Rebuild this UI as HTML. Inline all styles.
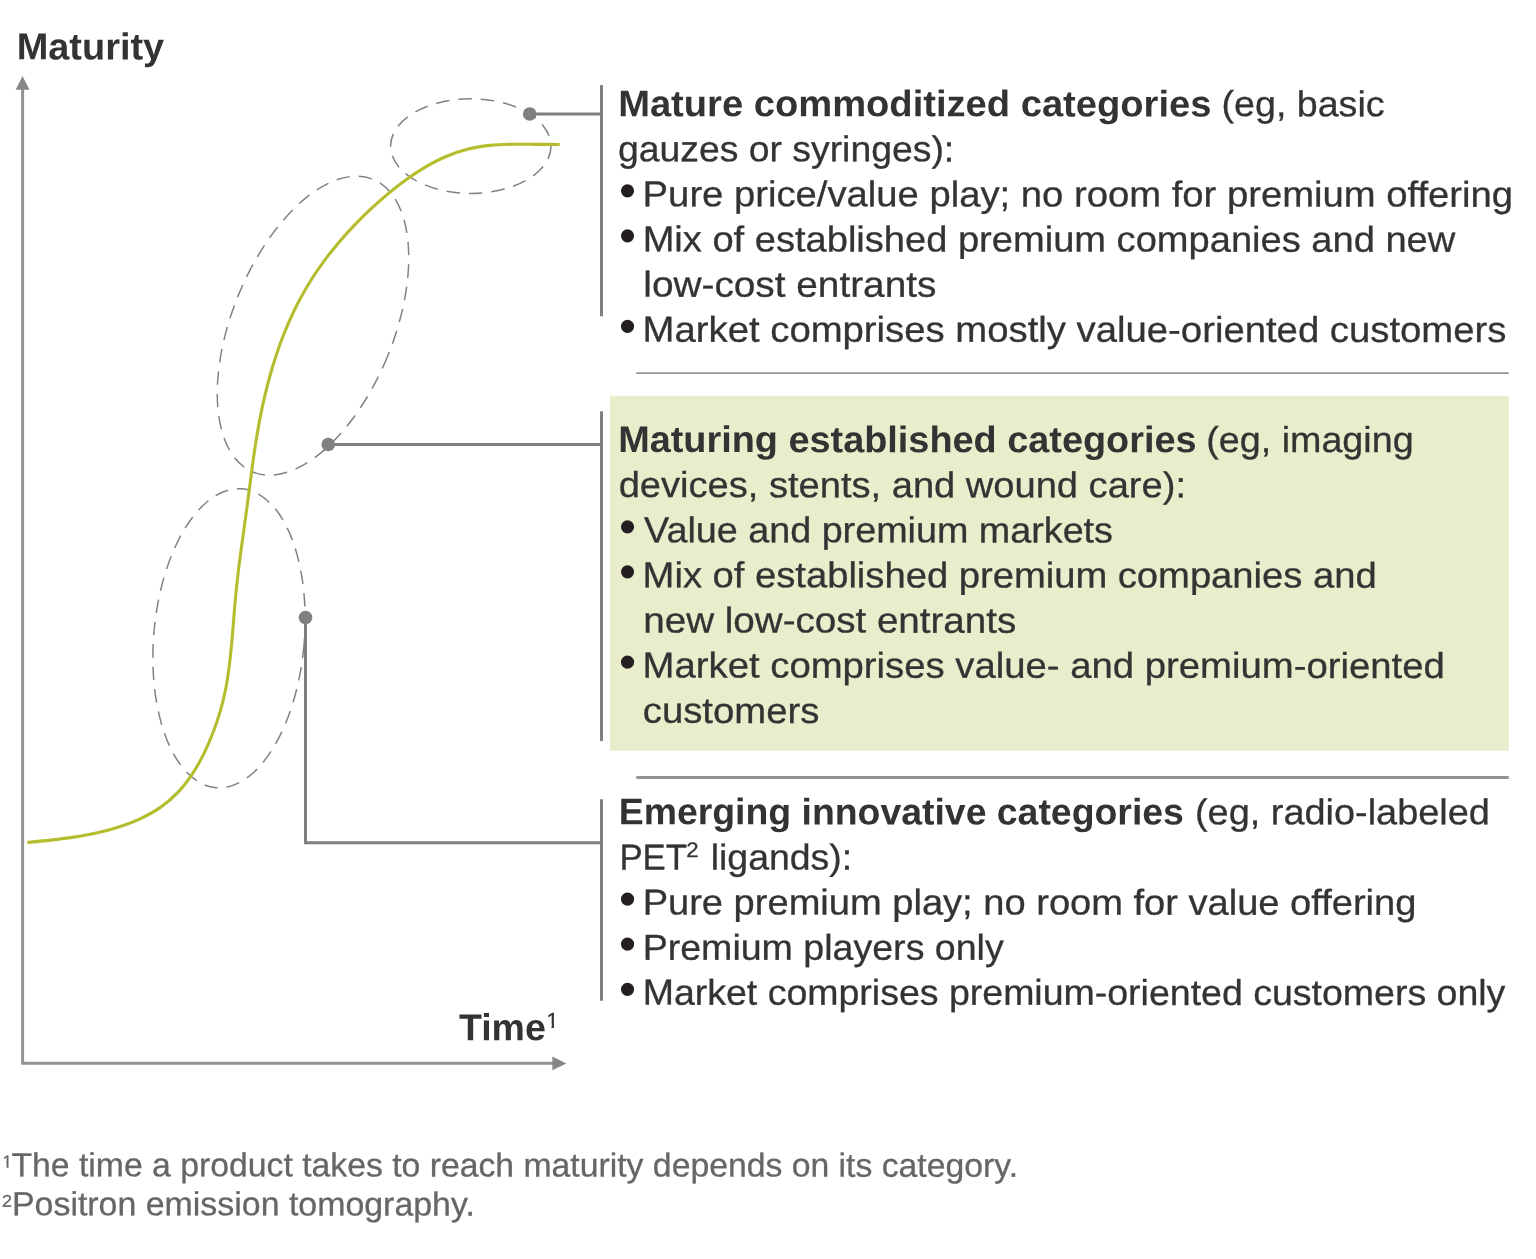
<!DOCTYPE html>
<html lang="en">
<head>
<meta charset="utf-8">
<title>Product maturity over time by category</title>
<style>
html,body{margin:0;padding:0;background:#fff;}
body{width:1536px;height:1259px;overflow:hidden;}
svg{display:block;}
text{font-family:'Liberation Sans', sans-serif;white-space:pre;}
</style>
</head>
<body>
<svg width="1536" height="1259" viewBox="0 0 1536 1259">
<rect x="0" y="0" width="1536" height="1259" fill="#ffffff"/>
<g id="chart">
<g id="axes">
<path d="M22.6 89 V1063.25 H553" fill="none" stroke="#939393" stroke-width="3"/>
<path d="M22.5 75.9 L29.45 89.7 H15.6 Z" fill="#878787"/>
<path d="M566.3 1063.45 L552.4 1070.3 V1056.6 Z" fill="#878787"/>
<text transform="translate(16.67 59.36) rotate(0.03) scale(1.0118 1)" font-size="37.5" font-weight="bold" fill="#333333">Maturity</text>
<text transform="translate(458.96 1040.23) rotate(0.03) scale(1.0001 1)" font-size="37.5" font-weight="bold" fill="#333333">Time</text>
<clipPath id="c1_time1" clipPathUnits="userSpaceOnUse"><path d="M-1 -21.50 H21.50 V-3.11 H7.61 V2 H5.11 V-3.11 H-1 Z"/></clipPath>
<text transform="translate(546.49 1027.65) rotate(0.03) scale(1.0000 1)" font-size="21.5" font-weight="normal" fill="#333333" stroke="#333333" stroke-width="0.3" clip-path="url(#c1_time1)">1</text>
</g>
<g id="stages" fill="none" stroke="#808285" stroke-width="1.5" stroke-dasharray="13.5 9">
<ellipse cx="470.8" cy="146.1" rx="80.2" ry="47.3" transform="rotate(0.0 470.8 146.1)"/>
<ellipse cx="313" cy="325.7" rx="80.6" ry="158.2" transform="rotate(22.3 313 325.7)"/>
<ellipse cx="229.0" cy="638.3" rx="75.3" ry="150.0" transform="rotate(5.0 229.0 638.3)"/>
</g>
<path id="s-curve" d="M27.25 842.50 C31.10 842.11 42.63 841.03 50.33 840.13 C58.02 839.24 65.75 838.34 73.41 837.14 C81.08 835.94 88.75 834.63 96.32 832.93 C103.89 831.23 111.45 829.32 118.84 826.92 C126.22 824.52 133.65 821.82 140.64 818.53 C147.63 815.23 154.53 811.52 160.78 807.13 C167.03 802.73 172.87 797.70 178.14 792.16 C183.41 786.62 188.10 780.34 192.41 773.88 C196.71 767.42 200.50 760.40 203.98 753.39 C207.46 746.37 210.52 739.03 213.30 731.77 C216.08 724.52 218.55 717.24 220.66 709.87 C222.78 702.50 224.51 695.08 225.97 687.56 C227.43 680.04 228.45 672.40 229.43 664.75 C230.40 657.11 231.10 649.40 231.82 641.69 C232.54 633.98 233.10 626.23 233.75 618.50 C234.40 610.76 234.99 603.00 235.74 595.26 C236.49 587.52 237.32 579.79 238.24 572.06 C239.15 564.34 240.19 556.63 241.22 548.92 C242.25 541.22 243.36 533.53 244.42 525.86 C245.48 518.18 246.56 510.52 247.58 502.87 C248.60 495.23 249.55 487.60 250.56 479.97 C251.56 472.34 252.53 464.72 253.63 457.10 C254.72 449.48 255.84 441.86 257.13 434.24 C258.42 426.61 259.82 418.97 261.39 411.35 C262.97 403.73 264.68 396.11 266.58 388.54 C268.49 380.98 270.55 373.43 272.82 365.98 C275.09 358.52 277.53 351.10 280.20 343.80 C282.87 336.51 285.73 329.27 288.84 322.19 C291.95 315.10 295.27 308.10 298.85 301.28 C302.43 294.45 306.26 287.76 310.33 281.23 C314.41 274.71 318.75 268.34 323.29 262.13 C327.83 255.91 332.61 249.85 337.57 243.94 C342.53 238.03 347.71 232.27 353.05 226.65 C358.38 221.02 363.91 215.55 369.57 210.22 C375.23 204.88 381.05 199.65 387.01 194.64 C392.98 189.64 399.08 184.73 405.38 180.19 C411.69 175.64 418.15 171.27 424.83 167.36 C431.51 163.45 438.39 159.74 445.46 156.72 C452.53 153.70 459.81 151.10 467.22 149.21 C474.64 147.33 482.27 146.23 489.93 145.40 C497.59 144.57 505.42 144.40 513.20 144.23 C520.97 144.05 528.84 144.32 536.59 144.36 C544.34 144.40 555.85 144.43 559.70 144.45" fill="none" stroke="#b5bd2f" stroke-width="3.1"/>
<g id="callouts">
<g fill="none" stroke="#808080" stroke-width="3">
<path d="M529.7 114 H601.5"/>
<path d="M328.25 444.5 H601.5"/>
<path d="M305.5 617.5 V842.7 H601.5"/>
<path d="M601.5 85 V316.3"/>
<path d="M601.5 411.25 V741"/>
<path d="M601.5 799.25 V1000.75"/>
</g>
<circle cx="529.7" cy="114" r="6.85" fill="#808080"/>
<circle cx="328.25" cy="444.5" r="6.85" fill="#808080"/>
<circle cx="305.5" cy="617.5" r="6.85" fill="#808080"/>
</g>
</g>
<g id="section-mature">
<text transform="translate(618.15 116.15) rotate(0.03) scale(1.0311 1)" font-size="37" font-weight="bold" fill="#333333">Mature commoditized categories</text>
<text transform="translate(1221.59 116.11) rotate(0.03) scale(1.0445 1)" font-size="36" font-weight="normal" fill="#333333" stroke="#333333" stroke-width="0.3">(eg, basic</text>
<text transform="translate(617.97 161.21) rotate(0.03) scale(1.0376 1)" font-size="36" font-weight="normal" fill="#333333" stroke="#333333" stroke-width="0.3">gauzes or syringes):</text>
<text transform="translate(618.98 206.98) rotate(0.03)" font-size="48.7" fill="#231f20">•</text>
<text transform="translate(642.62 206.22) rotate(0.03) scale(1.0623 1)" font-size="36" font-weight="normal" fill="#333333" stroke="#333333" stroke-width="0.3">Pure price/value play; no room for premium offering</text>
<text transform="translate(618.98 252.08) rotate(0.03)" font-size="48.7" fill="#231f20">•</text>
<text transform="translate(642.63 251.34) rotate(0.03) scale(1.0578 1)" font-size="36" font-weight="normal" fill="#333333" stroke="#333333" stroke-width="0.3">Mix of established premium companies and new</text>
<text transform="translate(643.31 296.62) rotate(0.03) scale(1.0775 1)" font-size="36" font-weight="normal" fill="#333333" stroke="#333333" stroke-width="0.3">low-cost entrants</text>
<text transform="translate(618.98 342.38) rotate(0.03)" font-size="48.7" fill="#231f20">•</text>
<text transform="translate(642.62 341.62) rotate(0.03) scale(1.0636 1)" font-size="36" font-weight="normal" fill="#333333" stroke="#333333" stroke-width="0.3">Market comprises mostly value-oriented customers</text>
</g>
<line x1="636.25" y1="373.05" x2="1508.75" y2="373.05" stroke="#939393" stroke-width="1.8"/>
<g id="section-maturing">
<rect x="610" y="395.75" width="898.75" height="355" fill="#e9edcb"/>
<text transform="translate(618.17 452.05) rotate(0.03) scale(1.0232 1)" font-size="37" font-weight="bold" fill="#333333">Maturing established categories</text>
<text transform="translate(1206.24 452.00) rotate(0.03) scale(1.0472 1)" font-size="36" font-weight="normal" fill="#333333" stroke="#333333" stroke-width="0.3">(eg, imaging</text>
<text transform="translate(618.65 497.05) rotate(0.03) scale(1.0584 1)" font-size="36" font-weight="normal" fill="#333333" stroke="#333333" stroke-width="0.3">devices, stents, and wound care):</text>
<text transform="translate(618.98 542.88) rotate(0.03)" font-size="48.7" fill="#231f20">•</text>
<text transform="translate(644.09 542.23) rotate(0.03) scale(1.0482 1)" font-size="36" font-weight="normal" fill="#333333" stroke="#333333" stroke-width="0.3">Value and premium markets</text>
<text transform="translate(618.98 587.98) rotate(0.03)" font-size="48.7" fill="#231f20">•</text>
<text transform="translate(642.62 587.26) rotate(0.03) scale(1.0606 1)" font-size="36" font-weight="normal" fill="#333333" stroke="#333333" stroke-width="0.3">Mix of established premium companies and</text>
<text transform="translate(643.32 632.50) rotate(0.03) scale(1.0715 1)" font-size="36" font-weight="normal" fill="#333333" stroke="#333333" stroke-width="0.3">new low-cost entrants</text>
<text transform="translate(618.98 678.28) rotate(0.03)" font-size="48.7" fill="#231f20">•</text>
<text transform="translate(642.62 677.54) rotate(0.03) scale(1.0636 1)" font-size="36" font-weight="normal" fill="#333333" stroke="#333333" stroke-width="0.3">Market comprises value- and premium-oriented</text>
<text transform="translate(642.74 722.85) rotate(0.03) scale(1.0640 1)" font-size="36" font-weight="normal" fill="#333333" stroke="#333333" stroke-width="0.3">customers</text>
</g>
<line x1="636.25" y1="777.5" x2="1508.75" y2="777.5" stroke="#939393" stroke-width="2.9"/>
<g id="section-emerging">
<text transform="translate(618.70 824.30) rotate(0.03) scale(1.0109 1)" font-size="37" font-weight="bold" fill="#333333">Emerging innovative categories</text>
<text transform="translate(1194.97 824.22) rotate(0.03) scale(1.0528 1)" font-size="36" font-weight="normal" fill="#333333" stroke="#333333" stroke-width="0.3">(eg, radio-labeled</text>
<text transform="translate(619.39 869.43) rotate(0.03) scale(0.9674 1)" font-size="36" font-weight="normal" fill="#333333" stroke="#333333" stroke-width="0.3">PET</text>
<text transform="translate(686.22 856.95) rotate(0.03) scale(1.0591 1)" font-size="21" font-weight="normal" fill="#333333" stroke="#333333" stroke-width="0.3">2</text>
<text transform="translate(710.69 869.41) rotate(0.03) scale(1.0397 1)" font-size="36" font-weight="normal" fill="#333333" stroke="#333333" stroke-width="0.3">ligands):</text>
<text transform="translate(618.98 915.13) rotate(0.03)" font-size="48.7" fill="#231f20">•</text>
<text transform="translate(642.63 914.40) rotate(0.03) scale(1.0577 1)" font-size="36" font-weight="normal" fill="#333333" stroke="#333333" stroke-width="0.3">Pure premium play; no room for value offering</text>
<text transform="translate(618.98 960.28) rotate(0.03)" font-size="48.7" fill="#231f20">•</text>
<text transform="translate(642.65 959.66) rotate(0.03) scale(1.0436 1)" font-size="36" font-weight="normal" fill="#333333" stroke="#333333" stroke-width="0.3">Premium players only</text>
<text transform="translate(618.98 1005.38) rotate(0.03)" font-size="48.7" fill="#231f20">•</text>
<text transform="translate(642.65 1004.62) rotate(0.03) scale(1.0419 1)" font-size="36" font-weight="normal" fill="#333333" stroke="#333333" stroke-width="0.3">Market comprises premium-oriented customers only</text>
</g>
<g id="footnotes">
<clipPath id="c1_f1s" clipPathUnits="userSpaceOnUse"><path d="M-1 -17.00 H17.00 V-2.77 H6.08 V2 H3.97 V-2.77 H-1 Z"/></clipPath>
<text transform="translate(2.52 1167.35) rotate(0.03) scale(1.0000 1)" font-size="17" font-weight="normal" fill="#666666" stroke="#666666" stroke-width="0.3" clip-path="url(#c1_f1s)">1</text>
<text transform="translate(11.47 1176.19) rotate(0.03) scale(1.0137 1)" font-size="33.3" font-weight="normal" fill="#666666" stroke="#666666" stroke-width="0.3">The time a product takes to reach maturity depends on its category.</text>
<text transform="translate(1.92 1206.85) rotate(0.03) scale(1.0574 1)" font-size="17" font-weight="normal" fill="#666666" stroke="#666666" stroke-width="0.3">2</text>
<text transform="translate(11.97 1215.23) rotate(0.03) scale(1.0183 1)" font-size="33.3" font-weight="normal" fill="#666666" stroke="#666666" stroke-width="0.3">Positron emission tomography.</text>
</g>
</svg>
</body>
</html>
